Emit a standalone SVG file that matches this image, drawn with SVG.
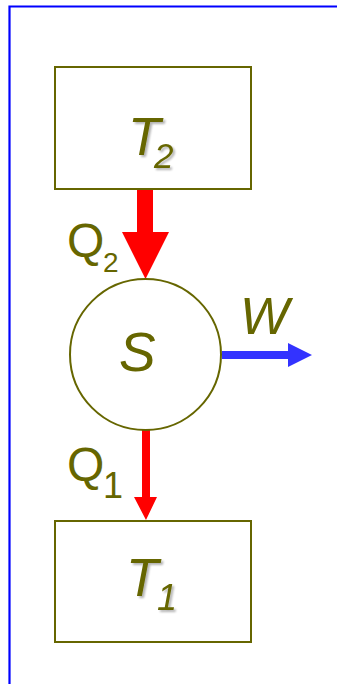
<svg xmlns="http://www.w3.org/2000/svg" width="337" height="684" viewBox="0 0 337 684">
<defs>
<style>
.box{fill:#fff;stroke:#666600;stroke-width:2}
.lbl{font-family:"Liberation Sans",Arial,sans-serif;fill:#666600}
.it{font-style:italic}
.sh{filter:url(#shadow)}
</style>
<filter id="shadow" x="-20%" y="-20%" width="150%" height="150%">
<feGaussianBlur in="SourceAlpha" stdDeviation="1.2"/>
<feOffset dx="1.5" dy="2" result="b"/>
<feComponentTransfer><feFuncA type="linear" slope="0.3"/></feComponentTransfer>
<feMerge><feMergeNode/><feMergeNode in="SourceGraphic"/></feMerge>
</filter>
</defs>
<rect width="337" height="684" fill="#fff"/>
<g id="frame" fill="none" stroke="#0000ff" stroke-width="2.2">
<path d="M9.5,684 V6.5 H337"/>
</g>
<g id="connectors">
<path d="M137,189 H153 V232 H169 L145.5,279 L122,232 H137 Z" fill="#ff0000"/>
<path d="M142,430 H150 V497 H157 L146,520 L134,497 H142 Z" fill="#ff0000"/>
<path d="M222,351 H288 V343 L312,355 L288,367 V359 H222 Z" fill="#3333ff"/>
</g>
<g id="T2">
<rect class="box" x="55" y="67" width="196" height="122"/>
<text class="lbl it sh" font-size="53"><tspan x="128" y="155">T</tspan><tspan x="154" y="168" font-size="35">2</tspan></text>
</g>
<g id="S">
<circle cx="145.5" cy="354.5" r="75.5" fill="#fff" stroke="#666600" stroke-width="2"/>
<text class="lbl it" x="119" y="371" font-size="55">S</text>
</g>
<g id="T1">
<rect class="box" x="55" y="521" width="196" height="121"/>
<text class="lbl it sh" font-size="53"><tspan x="126" y="596">T</tspan><tspan x="157" y="610" font-size="36">1</tspan></text>
</g>
<g id="labels">
<text class="lbl" font-size="48"><tspan x="67" y="257">Q</tspan><tspan x="103" y="272" font-size="28">2</tspan></text>
<text class="lbl" font-size="48"><tspan x="67" y="481">Q</tspan><tspan x="103" y="498" font-size="36">1</tspan></text>
<text class="lbl it" x="240" y="334" font-size="52">W</text>
</g>
</svg>
